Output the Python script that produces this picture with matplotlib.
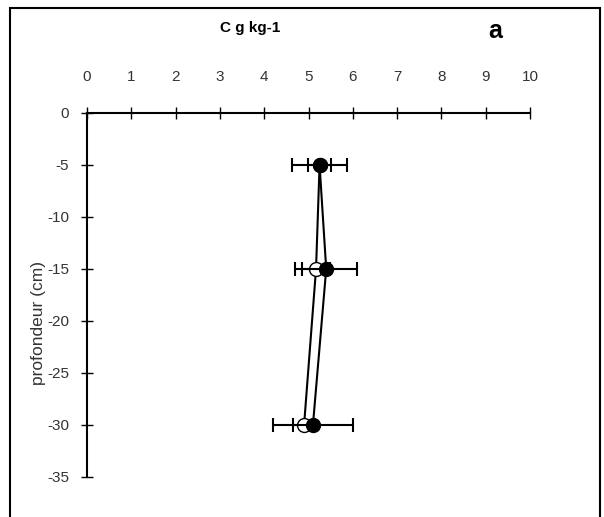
import matplotlib
matplotlib.use("Agg")
import matplotlib.pyplot as plt
from matplotlib.patches import Rectangle

plt.rcParams['font.family'] = ['Liberation Sans', 'DejaVu Sans']
plt.rcParams['axes.unicode_minus'] = False

# depth (cm) and carbon content (g/kg)
depth = [-5, -15, -30]
c_filled = [5.25, 5.4, 5.1]
err_filled = [0.63, 0.7, 0.9]
c_open = [5.25, 5.17, 4.9]
err_open = [0.26, 0.32, 0.25]

xticks = list(range(0, 11))
yticks = list(range(0, -40, -5))

fig = plt.figure(figsize=(6.04, 5.17), dpi=100)
ax = fig.add_axes([87/604, 1-477/517, (530-87)/604, (477-113)/517])

ax.errorbar(c_open, depth, xerr=err_open, color="black", marker="o", mfc="white",
            mec="black", ms=10, lw=1.5, capsize=5, elinewidth=1.5, capthick=1.5, zorder=3)
ax.errorbar(c_filled, depth, xerr=err_filled, color="black", marker="o", mfc="black",
            mec="black", ms=10, lw=1.5, capsize=5, elinewidth=1.5, capthick=1.5, zorder=4)

ax.set_xlim(0, 10)
ax.set_ylim(-35, 0)
ax.set_xticks(xticks)
ax.set_yticks(yticks)
ax.spines['left'].set_position(('data', 0))
ax.spines['top'].set_position(('data', 0))
ax.spines['bottom'].set_visible(False)
ax.spines['right'].set_visible(False)
for s in ['left', 'top']:
    ax.spines[s].set_linewidth(1.5)
ax.xaxis.tick_top()
ax.tick_params(axis='x', direction='inout', length=8, width=1, pad=17, labelsize=11)
ax.tick_params(axis='y', direction='inout', length=8, width=1, pad=9, labelsize=11)
for lab in ax.get_xticklabels() + ax.get_yticklabels():
    lab.set_color('#333333')

fig.text(250/604, 1-28/517, "C g kg-1", ha='center', va='center', fontsize=11, fontweight='bold')
fig.text(495/604, 1-31/517, "a", ha='center', va='center', fontsize=18, fontweight='bold')
fig.text(39/604, 1-323/517, "profondeur (cm)", ha='center', va='center', rotation=90, fontsize=12.5,
         color='#333333')

fig.patches.append(Rectangle((10/604, -0.02), 590/604, 1-8/517+0.02, transform=fig.transFigure,
                             fill=False, ec='black', lw=1.5))

fig.savefig("out.png", dpi=100)
